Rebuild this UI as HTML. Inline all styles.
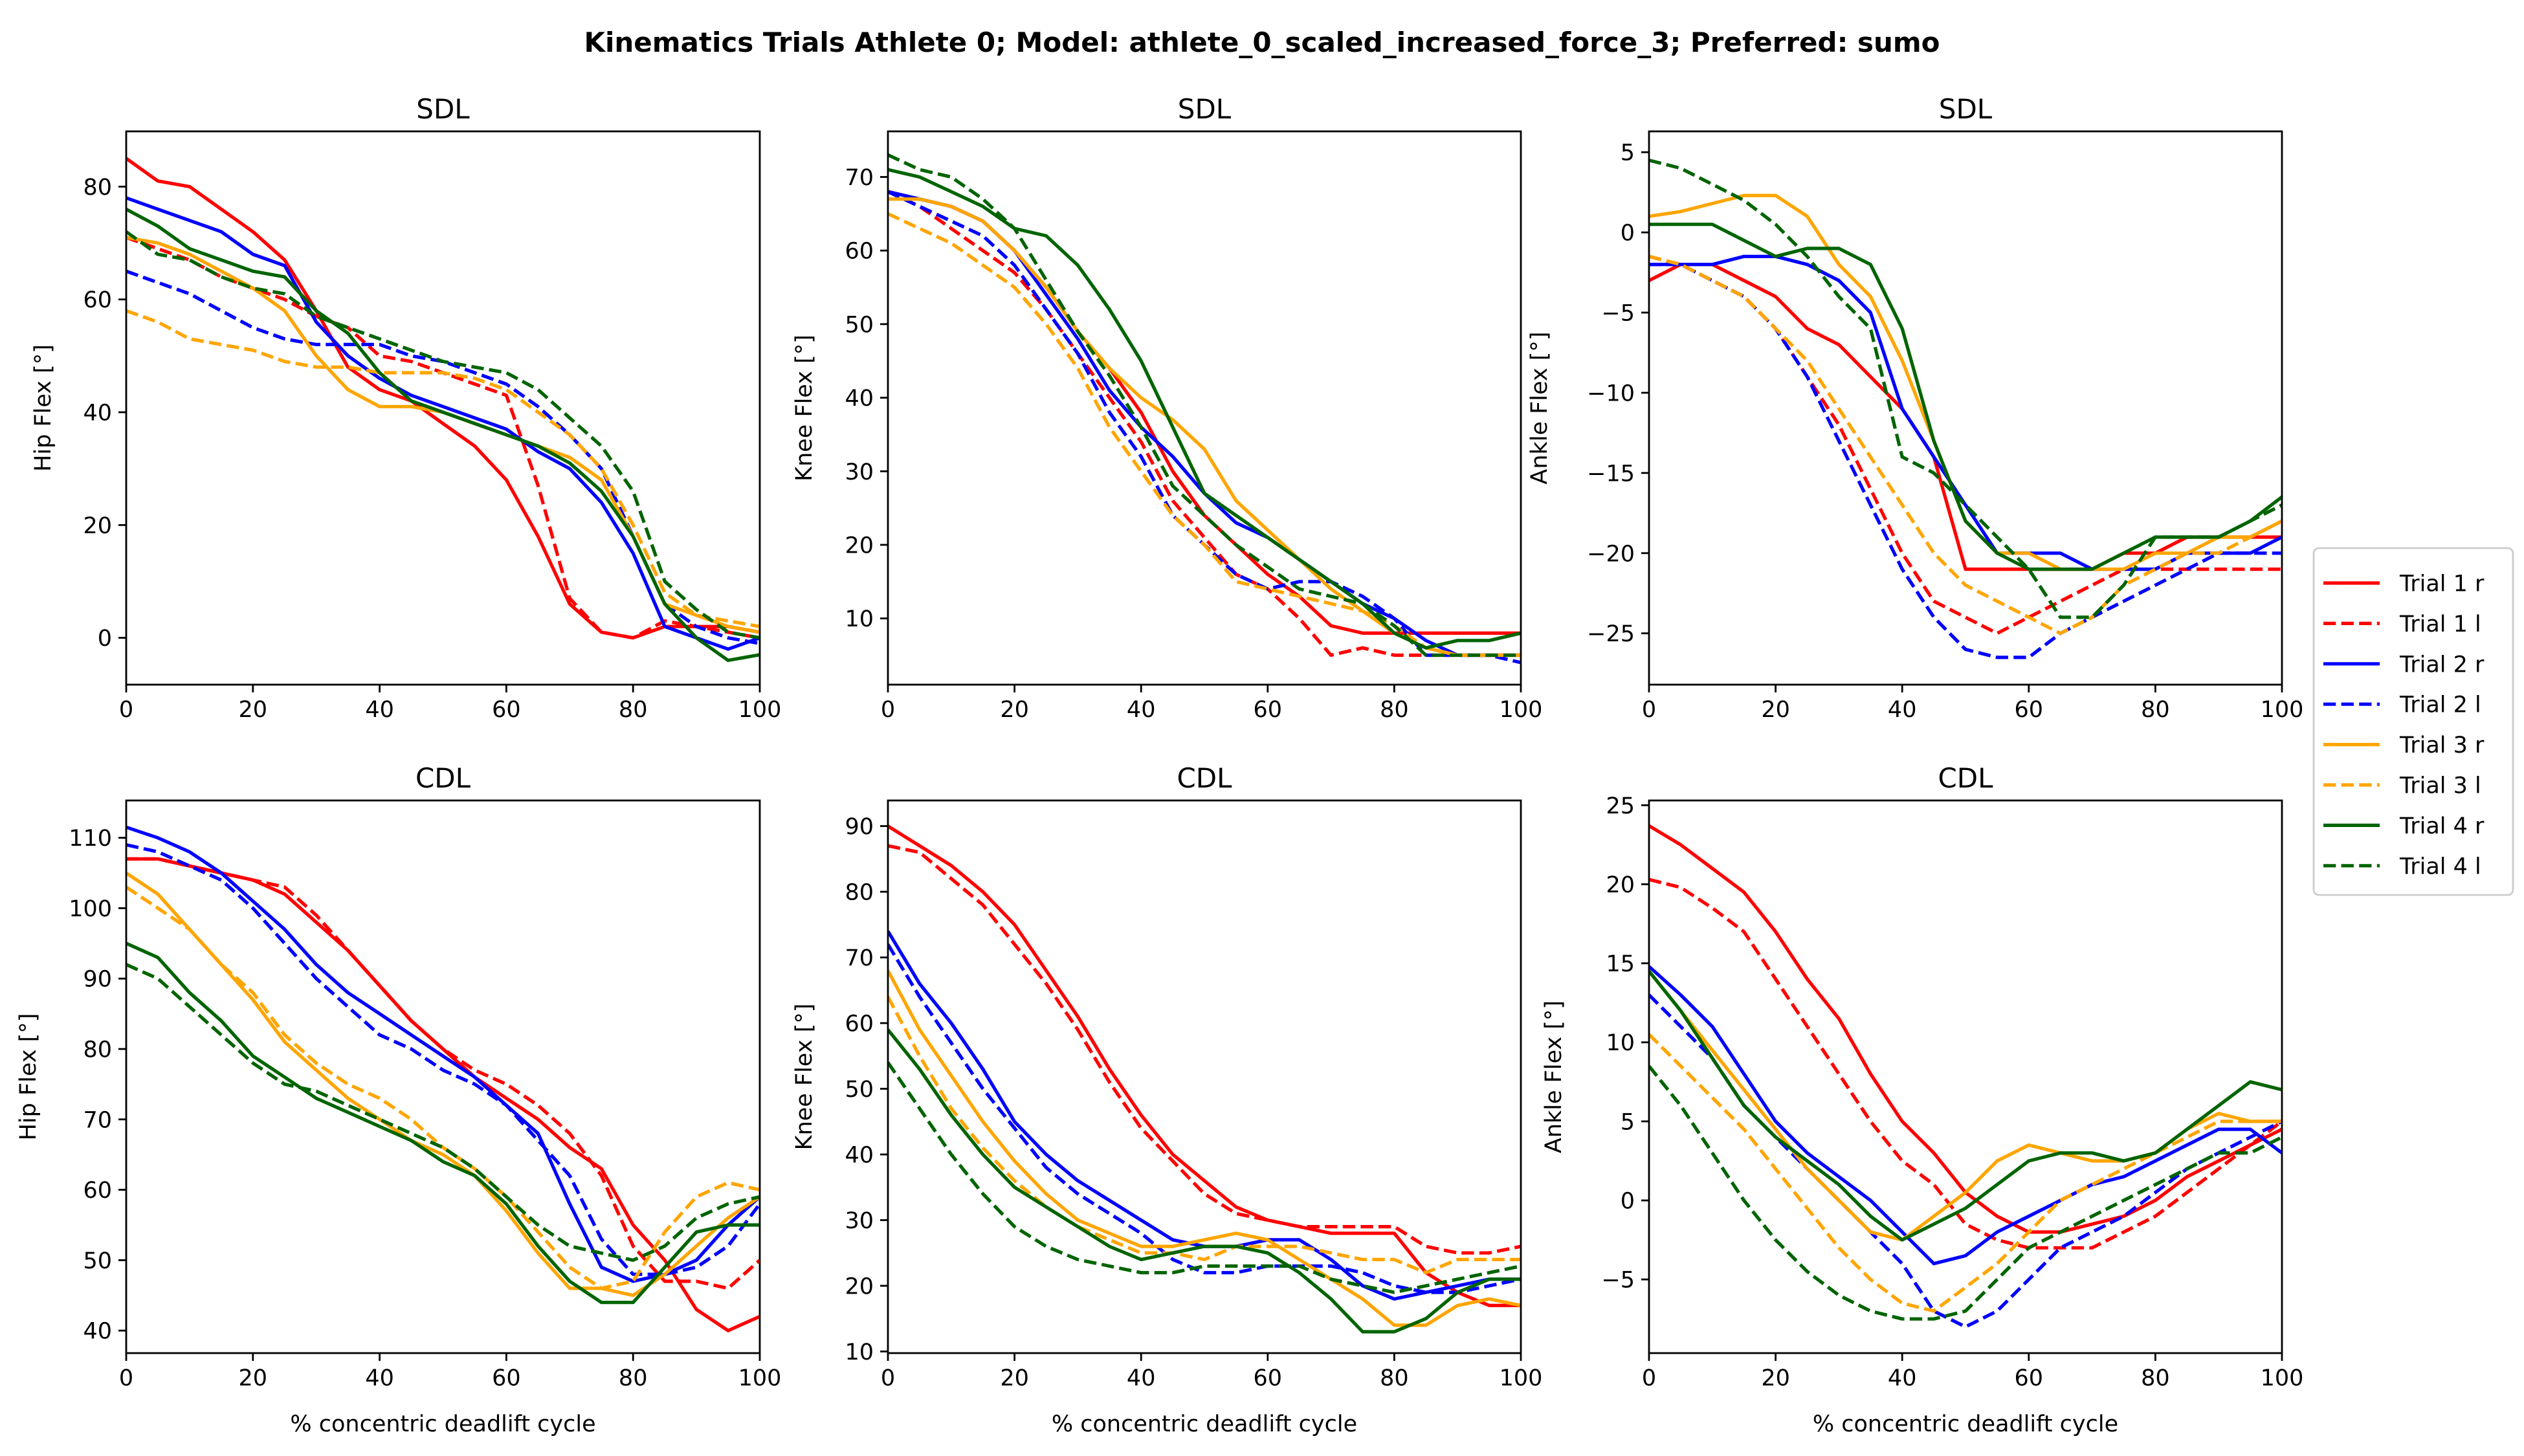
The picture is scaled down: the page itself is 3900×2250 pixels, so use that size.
<!DOCTYPE html>
<html><head><meta charset="utf-8"><style>
html,body{margin:0;padding:0;background:#fff}
svg{display:block;font-family:"DejaVu Sans","Liberation Sans",sans-serif}
</style></head><body>
<svg id="fig" width="3900" height="2250" viewBox="0 0 3900 2250" xmlns="http://www.w3.org/2000/svg">
<rect width="3900" height="2250" fill="#fff"/>
<text x="1950" y="80" text-anchor="middle" font-size="42" font-weight="bold">Kinematics Trials Athlete 0; Model: athlete_0_scaled_increased_force_3; Preferred: sumo</text>
</svg>
<script>
const xs = [0,5,10,15,20,25,30,35,40,45,50,55,60,65,70,75,80,85,90,95,100];
const seriesNames = ["Trial 1 r","Trial 1 l","Trial 2 r","Trial 2 l","Trial 3 r","Trial 3 l","Trial 4 r","Trial 4 l"];
const hipSDL = [
[85,81,80,76,72,67,58,48,44,42,38,34,28,18,6,1,0,2,2,2,1],
[71,69,67,64,62,60,57,55,50,49,47,45,43,27,7,1,0,3,2,1,0],
[78,76,74,72,68,66,56,50,46,43,41,39,37,33,30,24,15,2,0,-2,0],
[65,63,61,58,55,53,52,52,52,50,49,47,45,41,36,30,18,6,2,0,-1],
[71,70,68,65,62,58,50,44,41,41,40,38,36,34,32,28,18,6,4,2,1],
[58,56,53,52,51,49,48,48,47,47,47,46,44,40,36,30,20,8,4,3,2],
[76,73,69,67,65,64,58,54,47,42,40,38,36,34,31,26,18,6,0,-4,-3],
[72,68,67,64,62,61,57,55,53,51,49,48,47,44,39,34,26,10,5,1,0]];
const kneeSDL = [
[68,67,66,64,60,55,49,44,38,30,24,20,16,13,9,8,8,8,8,8,8],
[68,66,63,60,57,52,46,40,34,26,21,16,14,10,5,6,5,5,5,5,5],
[68,67,66,64,60,54,48,41,36,32,27,23,21,18,15,12,10,7,5,5,5],
[68,66,64,62,58,52,46,38,32,24,20,16,14,15,15,13,10,5,5,5,4],
[67,67,66,64,60,55,49,44,40,37,33,26,22,18,14,11,8,6,5,5,5],
[65,63,61,58,55,50,44,36,30,24,20,15,14,13,12,11,9,6,5,5,5],
[71,70,68,66,63,62,58,52,45,36,27,24,21,18,15,12,8,6,7,7,8],
[73,71,70,67,63,56,49,43,36,28,24,20,17,14,13,12,9,5,5,5,5]];
const ankleSDL = [
[-3,-2,-2,-3,-4,-6,-7,-9,-11,-14,-21,-21,-21,-21,-21,-20,-20,-19,-19,-19,-19],
[-1.5,-2,-3,-4,-6,-9,-12,-16,-20,-23,-24,-25,-24,-23,-22,-21,-21,-21,-21,-21,-21],
[-2,-2,-2,-1.5,-1.5,-2,-3,-5,-11,-14,-17,-20,-20,-20,-21,-21,-21,-20,-20,-20,-19],
[-2,-2,-3,-4,-6,-9,-13,-17,-21,-24,-26,-26.5,-26.5,-25,-24,-23,-22,-21,-20,-20,-20],
[1,1.3,1.8,2.3,2.3,1,-2,-4,-8,-13,-18,-20,-20,-21,-21,-21,-20,-20,-19,-19,-18],
[-1.5,-2,-3,-4,-6,-8,-11,-14,-17,-20,-22,-23,-24,-25,-24,-22,-21,-20,-20,-19,-18],
[0.5,0.5,0.5,-0.5,-1.5,-1,-1,-2,-6,-13,-18,-20,-21,-21,-21,-20,-19,-19,-19,-18,-16.5],
[4.5,4,3,2,0.5,-1.5,-4,-6,-14,-15,-17,-19,-21,-24,-24,-22,-19,-19,-19,-18,-17]];
const hipCDL = [
[107,107,106,105,104,102,98,94,89,84,80,76,73,70,66,63,55,50,43,40,42],
[107,107,106,105,104,103,99,94,89,84,80,77,75,72,68,62,52,47,47,46,50],
[111.5,110,108,105,101,97,92,88,85,82,79,76,72,68,58,49,47,48,50,55,59],
[109,108,106,104,100,95,90,86,82,80,77,75,72,67,62,53,48,48,49,52,58],
[105,102,97,92,87,81,77,73,70,67,65,62,57,51,46,46,45,48,52,56,59],
[103,100,97,92,88,82,78,75,73,70,66,63,59,54,49,46,47,54,59,61,60],
[95,93,88,84,79,76,73,71,69,67,64,62,58,52,47,44,44,49,54,55,55],
[92,90,86,82,78,75,74,72,70,68,66,63,59,55,52,51,50,52,56,58,59]];
const kneeCDL = [
[90,87,84,80,75,68,61,53,46,40,36,32,30,29,28,28,28,22,19,17,17],
[87,86,82,78,72,66,59,51,44,39,34,31,30,29,29,29,29,26,25,25,26],
[74,66,60,53,45,40,36,33,30,27,26,26,27,27,24,20,18,19,20,21,21],
[72,64,57,50,44,38,34,31,28,24,22,22,23,23,23,22,20,19,19,20,21],
[68,59,52,45,39,34,30,28,26,26,27,28,27,24,21,18,14,14,17,18,17],
[64,55,47,41,36,32,29,27,25,25,24,26,26,26,25,24,24,22,24,24,24],
[59,53,46,40,35,32,29,26,24,25,26,26,25,22,18,13,13,15,19,21,21],
[54,47,40,34,29,26,24,23,22,22,23,23,23,23,21,20,19,20,21,22,23]];
const ankleCDL = [
[23.7,22.5,21,19.5,17,14,11.5,8,5,3,0.5,-1,-2,-2,-1.5,-1,0,1.5,2.5,3.5,4.5],
[20.3,19.8,18.5,17,14,11,8,5,2.5,1,-1.5,-2.5,-3,-3,-3,-2,-1,0.5,2,3.5,5],
[14.8,13,11,8,5,3,1.5,0,-2,-4,-3.5,-2,-1,0,1,1.5,2.5,3.5,4.5,4.5,3],
[13,11,9,6,4,2,0,-2,-4,-7,-8,-7,-5,-3,-2,-1,0.5,2,3,4,5],
[14.5,12,9.5,7,4.5,2,0,-2,-2.5,-1,0.5,2.5,3.5,3,2.5,2.5,3,4.5,5.5,5,5],
[10.5,8.5,6.5,4.5,2,-0.5,-3,-5,-6.5,-7,-5.5,-4,-2,0,1,2,3,4,5,5,5],
[14.5,12,9,6,4,2.5,1,-1,-2.5,-1.5,-0.5,1,2.5,3,3,2.5,3,4.5,6,7.5,7],
[8.5,6,3,0,-2.5,-4.5,-6,-7,-7.5,-7.5,-7,-5,-3,-2,-1,0,1,2,3,3,4]];
const xTicks = [0,20,40,60,80,100];
const ticksHipSDL = [0,20,40,60,80];
const ticksKneeSDL = [10,20,30,40,50,60,70];
const ticksAnkleSDL = [-25,-20,-15,-10,-5,0,5];
const ticksHipCDL = [40,50,60,70,80,90,100,110];
const ticksKneeCDL = [10,20,30,40,50,60,70,80,90];
const ticksAnkleCDL = [-5,0,5,10,15,20,25];

const colors = ["#ff0000","#ff0000","#0000ff","#0000ff","#ffa500","#ffa500","#006400","#006400"];
const NS = "http://www.w3.org/2000/svg";
const svg = document.getElementById("fig");
function mk(tag, attrs, parent){const e=document.createElementNS(NS,tag);for(const k in attrs)e.setAttribute(k,attrs[k]);(parent||svg).appendChild(e);return e;}

const panels = [
 {data:hipSDL,ticks:ticksHipSDL,ymin:-8.3,ymax:89.8,x0:195,x1:1174,y0:203,y1:1058,title:"SDL",ylab:"Hip Flex [°]",ylx:78,name:"hip-sdl"},
 {data:kneeSDL,ticks:ticksKneeSDL,ymin:1.0,ymax:76.2,x0:1372,x1:2350,y0:203,y1:1058,title:"SDL",ylab:"Knee Flex [°]",ylx:1254,name:"knee-sdl"},
 {data:ankleSDL,ticks:ticksAnkleSDL,ymin:-28.2,ymax:6.3,x0:2548,x1:3526,y0:203,y1:1058,title:"SDL",ylab:"Ankle Flex [°]",ylx:2390,name:"ankle-sdl"},
 {data:hipCDL,ticks:ticksHipCDL,ymin:36.8,ymax:115.3,x0:195,x1:1174,y0:1237,y1:2091,title:"CDL",ylab:"Hip Flex [°]",ylx:55,name:"hip-cdl",xl:true},
 {data:kneeCDL,ticks:ticksKneeCDL,ymin:9.75,ymax:93.9,x0:1372,x1:2350,y0:1237,y1:2091,title:"CDL",ylab:"Knee Flex [°]",ylx:1254,name:"knee-cdl",xl:true},
 {data:ankleCDL,ticks:ticksAnkleCDL,ymin:-9.66,ymax:25.3,x0:2548,x1:3526,y0:1237,y1:2091,title:"CDL",ylab:"Ankle Flex [°]",ylx:2412,name:"ankle-cdl",xl:true}
];

panels.forEach(p=>{
  const g = mk("g",{});
  
  
  const sx = v => p.x0 + (v-0)/(100-0)*(p.x1-p.x0);
  const sy = v => p.y1 - (v-p.ymin)/(p.ymax-p.ymin)*(p.y1-p.y0);
  const cp = "clip-"+p.name;
  const cl = mk("clipPath",{id:cp},g);
  mk("rect",{x:p.x0,y:p.y0,width:p.x1-p.x0,height:p.y1-p.y0},cl);
  p.data.forEach((ser,i)=>{
    const d = ser.map((v,j)=>(j?"L":"M")+sx(xs[j]).toFixed(1)+","+sy(v).toFixed(1)).join(" ");
    const path = mk("path",{d:d,fill:"none",stroke:colors[i],"stroke-width":5.2,"stroke-linejoin":"round","clip-path":"url(#"+cp+")"},g);
    if(i%2===1){path.setAttribute("stroke-dasharray","19.3 8.3");}
    
    
  });
  const frame = mk("rect",{x:p.x0,y:p.y0,width:p.x1-p.x0,height:p.y1-p.y0,fill:"none",stroke:"#000","stroke-width":2.8},g);
  
  
  xTicks.forEach(t=>{
    const x=sx(t);
    mk("line",{x1:x,x2:x,y1:p.y1,y2:p.y1+12,stroke:"#000","stroke-width":2.8},g);
    const tx = mk("text",{x:x,y:p.y1+50,"text-anchor":"middle","font-size":35},g);
    tx.textContent=t;
    
    
  });
  p.ticks.forEach(t=>{
    const y=sy(t);
    mk("line",{x1:p.x0-12,x2:p.x0,y1:y,y2:y,stroke:"#000","stroke-width":2.8},g);
    const tx = mk("text",{x:p.x0-22,y:y+12.5,"text-anchor":"end","font-size":35},g);
    tx.textContent=t<0?"\u2212"+(-t):t;
    
    
  });
  const ti = mk("text",{x:(p.x0+p.x1)/2,y:p.y0-20,"text-anchor":"middle","font-size":42},g);
  ti.textContent=p.title;
  
  
  const yc=(p.y0+p.y1)/2;
  const yl = mk("text",{x:p.ylx,y:yc,"text-anchor":"middle","font-size":35,transform:"rotate(-90 "+p.ylx+" "+yc+")"},g);
  yl.textContent=p.ylab;
  
  
  if(p.xl){
    const xl = mk("text",{x:(p.x0+p.x1)/2,y:2212,"text-anchor":"middle","font-size":35},g);
    xl.textContent="% concentric deadlift cycle";
    
    
  }
});

const lg = mk("g",{});


mk("rect",{x:3575,y:847,width:308,height:536,rx:8,fill:"#fff",stroke:"#cccccc","stroke-width":2.8},lg);
seriesNames.forEach((n,i)=>{
  const y = 901 + i*62.4;
  const ln = mk("line",{x1:3590,x2:3677,y1:y,y2:y,stroke:colors[i],"stroke-width":5.2},lg);
  if(i%2===1) ln.setAttribute("stroke-dasharray","19.3 8.3");
  
  
  const t = mk("text",{x:3708,y:y+12.5,"font-size":35},lg);
  t.textContent=n;
  
  
});
</script>
</body></html>
